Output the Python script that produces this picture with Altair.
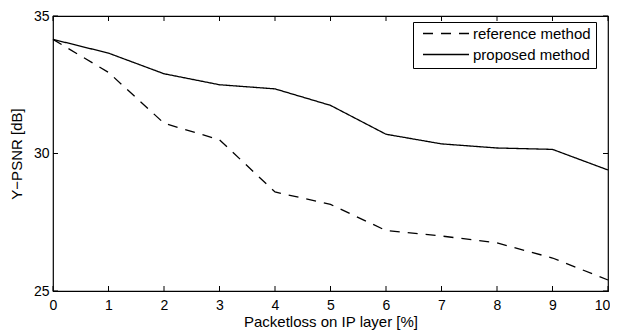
import altair as alt
import pandas as pd

packetloss = [0, 1, 2, 3, 4, 5, 6, 7, 8, 9, 10]
reference_method = [34.15, 32.95, 31.1, 30.5, 28.6, 28.15, 27.2, 27.0, 26.75, 26.2, 25.4]
proposed_method = [34.15, 33.65, 32.9, 32.5, 32.35, 31.75, 30.7, 30.35, 30.2, 30.15, 29.4]
series_names = ["reference method", "proposed method"]
x_ticks = [0, 1, 2, 3, 4, 5, 6, 7, 8, 9, 10]
y_ticks = [25, 30, 35]

W, H = 555, 275
FONT = "Liberation Sans"

rows = []
for name, vals in zip(series_names, [reference_method, proposed_method]):
    for x, y in zip(packetloss, vals):
        rows.append({"x": x, "y": y, "method": name})
df = pd.DataFrame(rows)

xs = alt.Scale(domain=[0, 10], nice=False, zero=False)
ys = alt.Scale(domain=[25, 35], nice=False, zero=False)

lines = alt.Chart(df).mark_line(color="black", strokeWidth=1.3).encode(
    x=alt.X("x:Q", scale=xs,
            axis=alt.Axis(title="Packetloss on IP layer [%]", values=x_ticks, format="d",
                          grid=False, ticks=False, domain=False, labelPadding=7,
                          labelFlush=False,
                          labelOffset={"condition": {"test": "datum.value == 10", "value": -6},
                                       "value": 0},
                          titlePadding=2, labelFontSize=14,
                          titleFontSize=15, titleFontWeight="normal", labelFont=FONT,
                          titleFont=FONT, labelColor="black", titleColor="black")),
    y=alt.Y("y:Q", scale=ys,
            axis=alt.Axis(title="Y−PSNR [dB]", values=y_ticks, format="d",
                          grid=False, ticks=False, domain=False, labelPadding=4,
                          labelFlush=False, titlePadding=9, labelFontSize=14,
                          titleFontSize=15, titleFontWeight="normal", labelFont=FONT,
                          titleFont=FONT, labelColor="black", titleColor="black")),
    strokeDash=alt.StrokeDash("method:N",
        scale=alt.Scale(domain=series_names, range=[[10, 8], [1, 0]]),
        legend=alt.Legend(title=None, orient="none", legendX=360, legendY=6,
                          symbolType="stroke", symbolSize=2116, symbolStrokeColor="black",
                          symbolStrokeWidth=1.3, symbolOffset=4, labelOffset=3,
                          labelFontSize=15, labelFont=FONT, labelColor="black",
                          strokeColor="black", fillColor="white", padding=5,
                          rowPadding=5, clipHeight=13)),
    order=alt.Order("x:Q"),
)

xt = pd.DataFrame({"x": x_ticks})
yt = pd.DataFrame({"y": y_ticks})

xtick_top = alt.Chart(xt).mark_rule(color="black", strokeWidth=1).encode(
    x=alt.X("x:Q", scale=xs), y=alt.value(0), y2=alt.value(5))
xtick_bot = alt.Chart(xt).mark_rule(color="black", strokeWidth=1).encode(
    x=alt.X("x:Q", scale=xs), y=alt.value(H), y2=alt.value(H - 5))
ytick_left = alt.Chart(yt).mark_rule(color="black", strokeWidth=1).encode(
    y=alt.Y("y:Q", scale=ys), x=alt.value(0), x2=alt.value(5))
ytick_right = alt.Chart(yt).mark_rule(color="black", strokeWidth=1).encode(
    y=alt.Y("y:Q", scale=ys), x=alt.value(W), x2=alt.value(W - 5))

chart = alt.layer(xtick_top, xtick_bot, ytick_left, ytick_right, lines).properties(
    width=W, height=H,
    autosize=alt.AutoSizeParams(type="none"),
    padding={"left": 45, "top": 8, "right": 2, "bottom": 42},
    background="white",
).configure_view(stroke="black", strokeWidth=1.2)

chart.save("out.html", embed_options={"renderer": "svg", "actions": False})
